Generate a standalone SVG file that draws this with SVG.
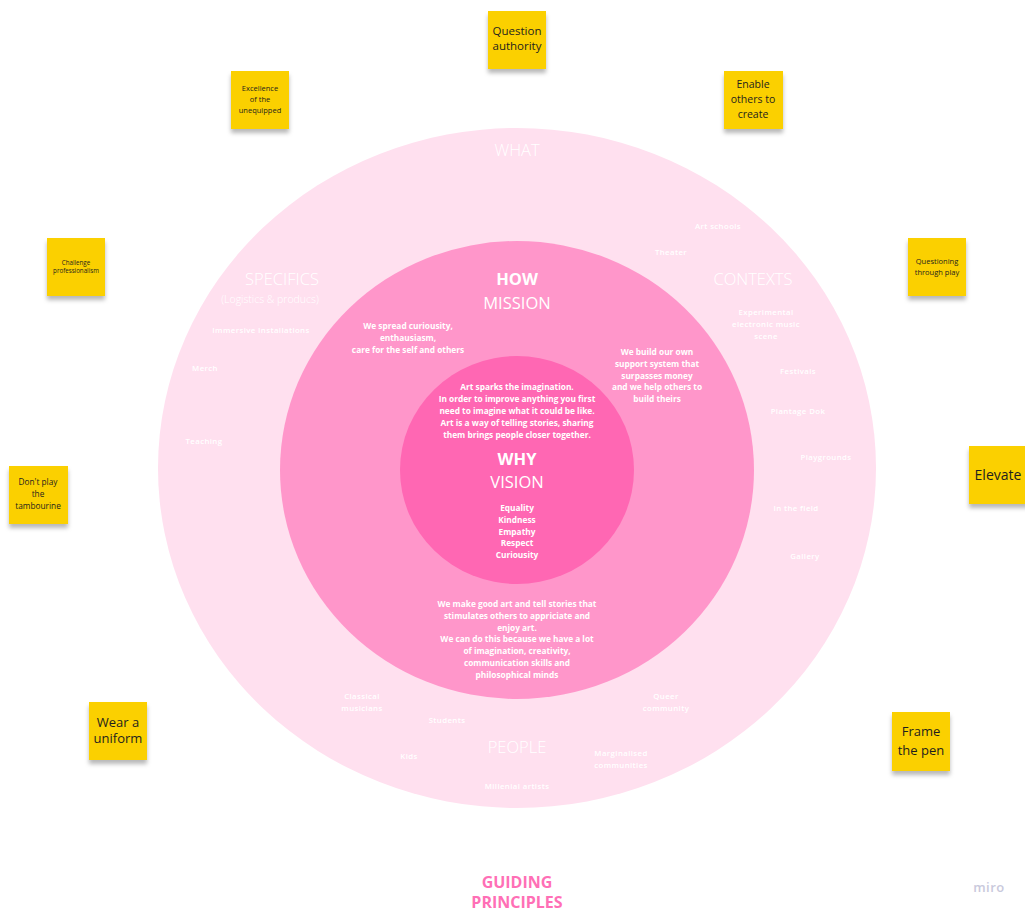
<svg xmlns="http://www.w3.org/2000/svg" width="1025" height="912" viewBox="0 0 1025 912">
<defs>
<filter id="sh" x="-20%" y="-20%" width="140%" height="160%">
<feDropShadow dx="0" dy="4" stdDeviation="2.2" flood-color="#000" flood-opacity="0.28"/>
</filter>
<style>
text{font-family:"Open Sans","Noto Sans","Liberation Sans",sans-serif;text-anchor:middle}
.big{fill:#fff;font-size:16.5px;font-weight:300}
.bigb{fill:#fff;font-size:16.5px;font-weight:700}
.bigr{fill:#fff;font-size:16.5px;font-weight:400}
.b{fill:#fff;font-size:8.3px;font-weight:700}
.s{fill:#fff;font-size:7.8px;font-weight:600;letter-spacing:0.4px}
.sticky{fill:#fbd000;filter:url(#sh)}
.st{fill:#1e1e1e;font-weight:400}
.gp{fill:#ff6fb6;font-size:16px;font-weight:700}
</style>
</defs>
<rect width="1025" height="912" fill="#fff"/>
<g id="rings">
<ellipse cx="517" cy="468" rx="359" ry="340" fill="#ffe0ef"/>
<ellipse cx="517" cy="470" rx="237" ry="229" fill="#ff96ca"/>
<ellipse cx="517" cy="470" rx="117" ry="114" fill="#ff67b3"/>
</g>
<g id="labels-outer">
<text class="big" x="517" y="156">WHAT</text>
<text class="big" x="282" y="285">SPECIFICS</text>
<text class="big" x="270" y="303" style="font-size:10.5px">(Logistics &amp; producs)</text>
<text class="big" x="753" y="285">CONTEXTS</text>
<text class="big" x="517" y="753">PEOPLE</text>
<text class="s" x="718" y="229">Art schools</text>
<text class="s" x="671" y="255">Theater</text>
<text class="s" x="766" y="315">Experimental</text>
<text class="s" x="766" y="327">electronic music</text>
<text class="s" x="766" y="339">scene</text>
<text class="s" x="798" y="374">Festivals</text>
<text class="s" x="798" y="414">Plantage Dok</text>
<text class="s" x="826" y="460">Playgrounds</text>
<text class="s" x="796" y="511">In the field</text>
<text class="s" x="805" y="559">Gallery</text>
<text class="s" x="261" y="333">Immersive Installations</text>
<text class="s" x="205" y="371">Merch</text>
<text class="s" x="204" y="444">Teaching</text>
<text class="s" x="362" y="699">Classical</text>
<text class="s" x="362" y="711">musicians</text>
<text class="s" x="447" y="723">Students</text>
<text class="s" x="409" y="759">Kids</text>
<text class="s" x="517" y="789">Millenial artists</text>
<text class="s" x="666" y="699">Queer</text>
<text class="s" x="666" y="711">community</text>
<text class="s" x="621" y="756">Marginalised</text>
<text class="s" x="621" y="768">communities</text>
</g>
<g id="labels-mission">
<text class="bigb" x="517" y="285">HOW</text>
<text class="bigr" x="517" y="309">MISSION</text>
<text class="b" x="408" y="329">We spread curiousity,</text>
<text class="b" x="408" y="341">enthausiasm,</text>
<text class="b" x="408" y="353">care for the self and others</text>
<text class="b" x="657" y="355">We build our own</text>
<text class="b" x="657" y="367">support system that</text>
<text class="b" x="657" y="379">surpasses money</text>
<text class="b" x="657" y="390">and we help others to</text>
<text class="b" x="657" y="402">build theirs</text>
<text class="b" x="517" y="607">We make good art and tell stories that</text>
<text class="b" x="517" y="619">stimulates others to appriciate and</text>
<text class="b" x="517" y="631">enjoy art.</text>
<text class="b" x="517" y="642">We can do this because we have a lot</text>
<text class="b" x="517" y="654">of imagination, creativity,</text>
<text class="b" x="517" y="666">communication skills and</text>
<text class="b" x="517" y="678">philosophical minds</text>
</g>
<g id="labels-vision">
<text class="b" x="517" y="390">Art sparks the imagination.</text>
<text class="b" x="517" y="402">In order to improve anything you first</text>
<text class="b" x="517" y="414">need to imagine what it could be like.</text>
<text class="b" x="517" y="426">Art is a way of telling stories, sharing</text>
<text class="b" x="517" y="438">them brings people closer together.</text>
<text class="bigb" x="517" y="465">WHY</text>
<text class="bigr" x="517" y="488">VISION</text>
<text class="b" x="517" y="511">Equality</text>
<text class="b" x="517" y="523">Kindness</text>
<text class="b" x="517" y="535">Empathy</text>
<text class="b" x="517" y="546">Respect</text>
<text class="b" x="517" y="558">Curiousity</text>
</g>
<g id="sticky-question-authority">
<rect class="sticky" x="488" y="11" width="58" height="58"/>
<text class="st" x="517" y="35" font-size="11.5">Question</text>
<text class="st" x="517" y="50" font-size="11.5">authority</text>
</g>
<g id="sticky-enable-others">
<rect class="sticky" x="724" y="71" width="59" height="58"/>
<text class="st" x="753" y="88" font-size="10.5">Enable</text>
<text class="st" x="753" y="103" font-size="10.5">others to</text>
<text class="st" x="753" y="118" font-size="10.5">create</text>
</g>
<g id="sticky-excellence">
<rect class="sticky" x="231" y="71" width="58" height="58"/>
<text class="st" x="260" y="91" font-size="7.5">Excellence</text>
<text class="st" x="260" y="102" font-size="7.5">of the</text>
<text class="st" x="260" y="113" font-size="7.5">unequipped</text>
</g>
<g id="sticky-challenge">
<rect class="sticky" x="47" y="238" width="58" height="58"/>
<text class="st" x="76" y="265" font-size="6.2">Challenge</text>
<text class="st" x="76" y="273" font-size="6.2">professionalism</text>
</g>
<g id="sticky-questioning-play">
<rect class="sticky" x="908" y="238" width="58" height="58"/>
<text class="st" x="937" y="264" font-size="7.5">Questioning</text>
<text class="st" x="937" y="275" font-size="7.5">through play</text>
</g>
<g id="sticky-elevate">
<rect class="sticky" x="969" y="446" width="60" height="58"/>
<text class="st" x="998" y="480" font-size="14">Elevate</text>
</g>
<g id="sticky-tambourine">
<rect class="sticky" x="9" y="466" width="59" height="58"/>
<text class="st" x="38" y="485" font-size="8.3">Don't play</text>
<text class="st" x="38" y="497" font-size="8.3">the</text>
<text class="st" x="38" y="509" font-size="8.3">tambourine</text>
</g>
<g id="sticky-uniform">
<rect class="sticky" x="89" y="702" width="58" height="58"/>
<text class="st" x="118" y="727" font-size="13">Wear a</text>
<text class="st" x="118" y="743" font-size="13">uniform</text>
</g>
<g id="sticky-frame-pen">
<rect class="sticky" x="892" y="712" width="58" height="59"/>
<text class="st" x="921" y="736" font-size="13">Frame</text>
<text class="st" x="921" y="755" font-size="13">the pen</text>
</g>
<g id="connectors"></g>
<g id="title">
<text class="gp" x="517" y="888">GUIDING</text>
<text class="gp" x="517" y="908">PRINCIPLES</text>
</g>
<text x="989" y="892" style="fill:#c9c9dc;font-size:13px;font-weight:600;letter-spacing:0.5px">miro</text>
</svg>
